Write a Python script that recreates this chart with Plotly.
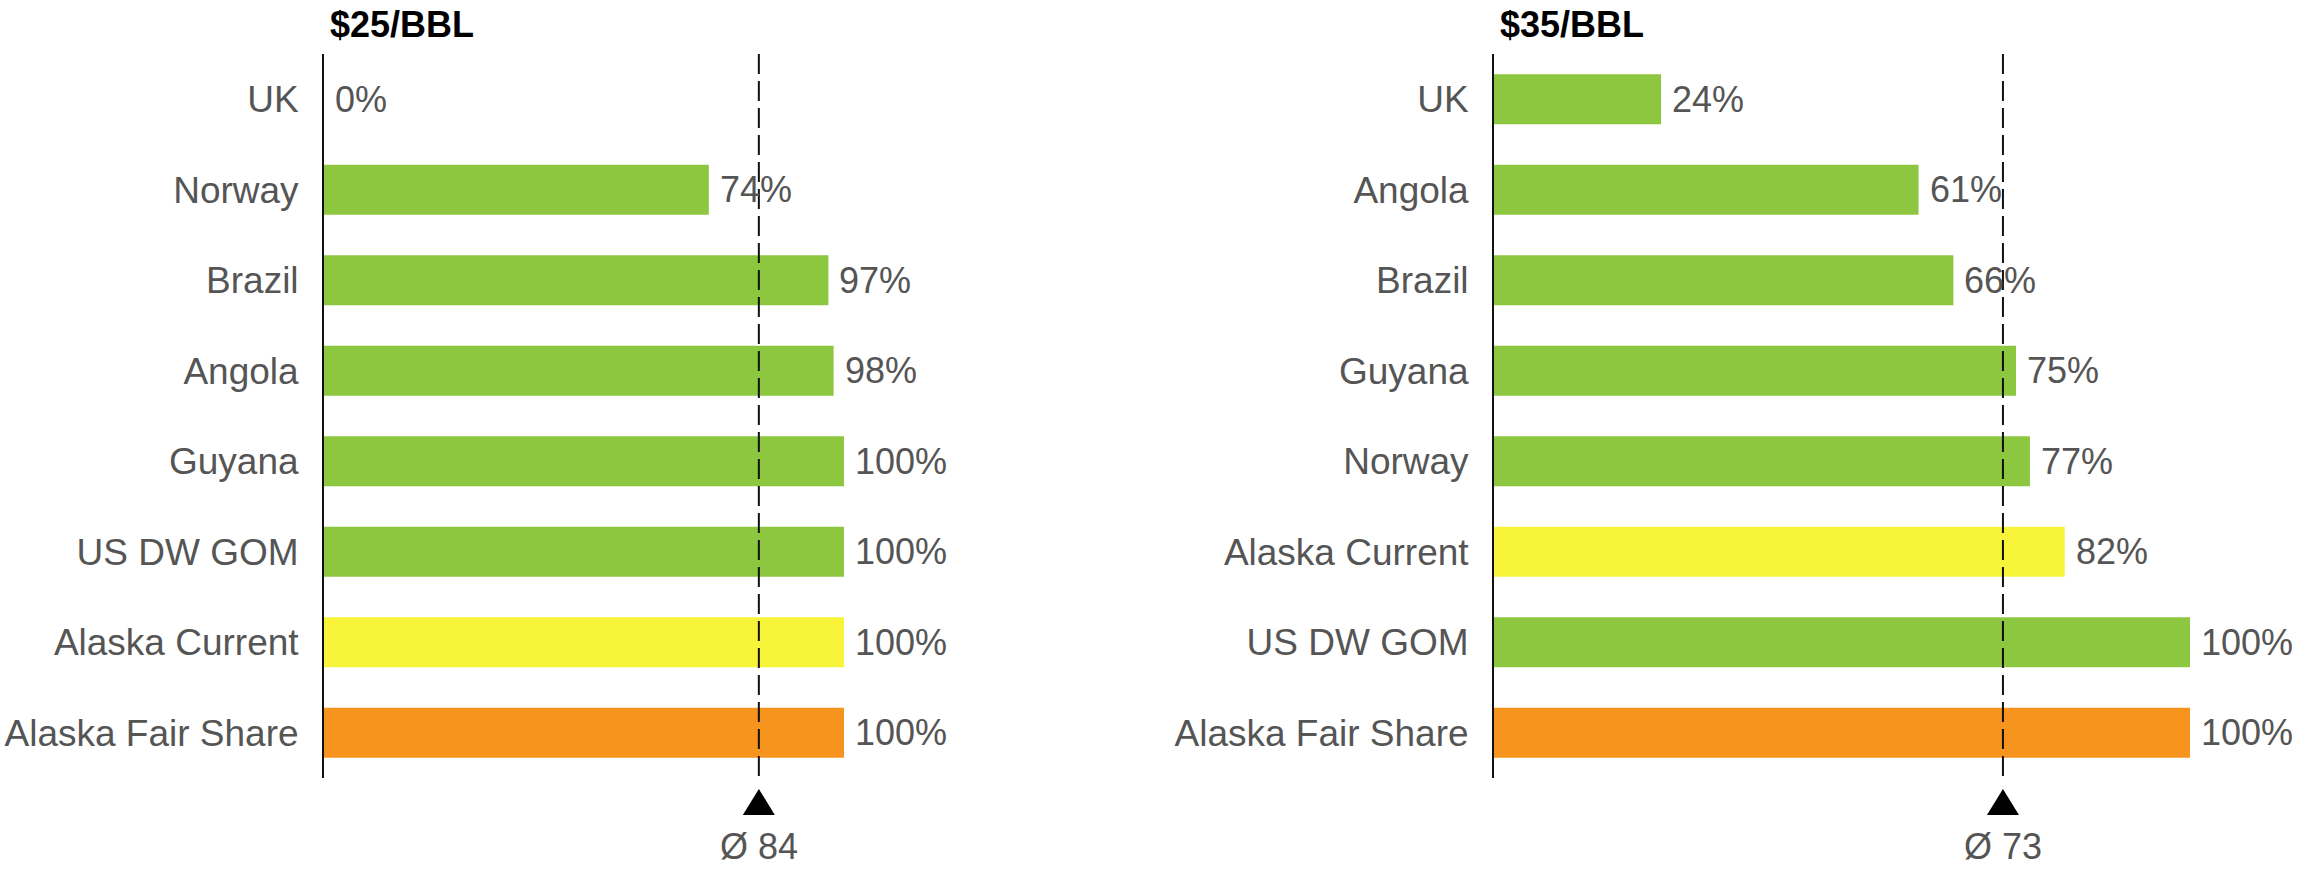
import plotly.graph_objects as go

# ---- data ----
left_title = "$25/BBL"
left_countries = ["UK", "Norway", "Brazil", "Angola", "Guyana", "US DW GOM", "Alaska Current", "Alaska Fair Share"]
left_values = [0, 74, 97, 98, 100, 100, 100, 100]

right_title = "$35/BBL"
right_countries = ["UK", "Angola", "Brazil", "Guyana", "Norway", "Alaska Current", "US DW GOM", "Alaska Fair Share"]
right_values = [24, 61, 66, 75, 77, 82, 100, 100]

GREEN, YELLOW, ORANGE = "#8DC63F", "#F7F43A", "#F7941E"
special_colors = {"Alaska Current": YELLOW, "Alaska Fair Share": ORANGE}

W, H = 2300, 869
FONT = "Liberation Sans, Arial, sans-serif"
GRAY = "#555555"
FS = 36

top_px, bot_px = 54, 778
ydom = [1 - bot_px / H, 1 - top_px / H]

panels = [
    dict(title=left_title, cats=left_countries, vals=left_values, x0=324, x1=1120, ppu=5.20, xa="x", ya="y"),
    dict(title=right_title, cats=right_countries, vals=right_values, x0=1494, x1=2300, ppu=6.96, xa="x2", ya="y2"),
]

fig = go.Figure()
shapes, annotations = [], []
layout_axes = {}

for i, p in enumerate(panels):
    n = "" if i == 0 else "2"
    colors = [special_colors.get(c, GREEN) for c in p["cats"]]
    fig.add_trace(go.Bar(
        x=p["vals"], y=p["cats"], orientation="h", marker=dict(color=colors, line=dict(width=0)),
        width=0.55, xaxis=p["xa"], yaxis=p["ya"], showlegend=False, hoverinfo="x+y",
    ))
    xmax = (p["x1"] - p["x0"]) / p["ppu"]
    layout_axes["xaxis" + n] = dict(domain=[p["x0"] / W, p["x1"] / W], range=[0, xmax], visible=False,
                                   anchor=p["ya"], fixedrange=True, automargin=False)
    layout_axes["yaxis" + n] = dict(domain=ydom, range=[len(p["cats"]) - 0.5, -0.5], anchor=p["xa"],
                                   type="category", categoryorder="array", categoryarray=p["cats"],
                                   showline=True, linecolor="#111111", linewidth=2, showgrid=False,
                                   zeroline=False, ticks="", ticklabelstandoff=16, automargin=False,
                                   tickfont=dict(family=FONT, size=37, color=GRAY))
    # value labels
    for c, v in zip(p["cats"], p["vals"]):
        annotations.append(dict(x=v, y=c, xref=p["xa"], yref=p["ya"], text=f"{v}%", showarrow=False,
                                xanchor="left", yanchor="middle", xshift=9,
                                font=dict(family=FONT, size=FS, color=GRAY)))
    # average line
    mean = sum(p["vals"]) / len(p["vals"])
    shapes.append(dict(type="line", xref=p["xa"], yref="paper", x0=mean, x1=mean,
                       y0=1 - 776 / H, y1=1 - top_px / H,
                       line=dict(color="#111111", width=2, dash="20px,7px")))
    shapes.append(dict(type="path", xref=p["xa"], yref="paper", xsizemode="pixel", ysizemode="pixel",
                       xanchor=mean, yanchor=1 - 815 / H, path="M-16,0 L16,0 L0,26 Z",
                       fillcolor="#000000", line=dict(width=0)))
    annotations.append(dict(x=mean, xref=p["xa"], y=0, yref="paper", text=f"Ø {round(mean)}",
                            showarrow=False, xanchor="center", yanchor="bottom",
                            font=dict(family=FONT, size=FS, color=GRAY)))
    # title
    annotations.append(dict(x=(p["x0"] + 4) / W, xref="paper", y=1 - 24 / H, yref="paper",
                            text=f"<b>{p['title']}</b>", showarrow=False, xanchor="left", yanchor="middle",
                            font=dict(family=FONT, size=36, color="#000000")))

fig.update_layout(
    width=W, height=H, margin=dict(l=0, r=0, t=0, b=0, autoexpand=False),
    paper_bgcolor="white", plot_bgcolor="white",
    bargap=0.45, shapes=shapes, annotations=annotations, **layout_axes,
)

fig.write_html("out.html", config={"displayModeBar": False},
               post_script="document.body.style.margin='0';document.body.style.overflow='hidden';")
